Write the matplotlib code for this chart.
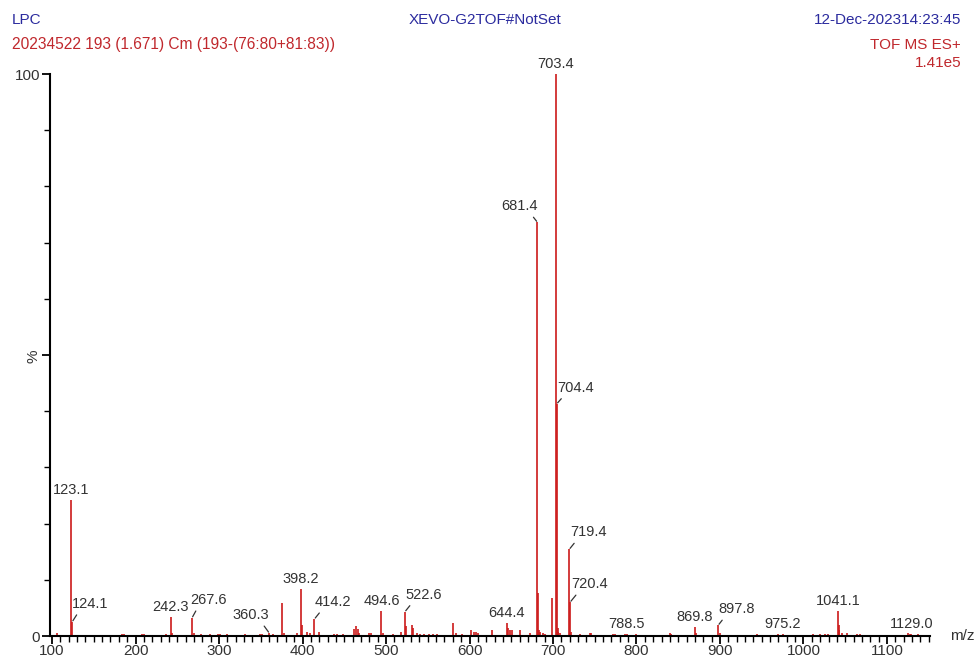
import numpy as np
import matplotlib
matplotlib.use('Agg')
import matplotlib.pyplot as plt
from matplotlib.ticker import MultipleLocator

plt.rcParams['font.family'] = ['Liberation Sans', 'DejaVu Sans']

# picos etiquetados (m/z, intensidad relativa %)
label_mz = [123.1, 124.1, 242.3, 267.6, 360.3, 398.2, 414.2, 494.6, 522.6, 644.4,
            681.4, 703.4, 704.4, 719.4, 720.4, 788.5, 869.8, 897.8, 975.2, 1041.1, 1129.0]
label_int = [24.2, 2.5, 3.4, 3.2, 0.5, 8.4, 3.0, 4.5, 4.3, 2.3,
             73.6, 100.0, 41.3, 15.4, 6.0, 0.4, 1.6, 1.9, 0.4, 4.5, 0.4]

# picos sin etiqueta (leidos a ojo del espectro)
other_mz = [106, 184, 186, 208, 210, 236.5, 243.3, 269.5, 279, 289, 299, 301, 309, 331,
            349, 351, 365, 375.2, 377.8, 393, 399.2, 405.5, 409, 420, 438, 441, 449,
            462, 464.5, 466, 467.5, 480, 482, 496, 508, 517.6, 524, 531, 532.5, 537,
            541, 546, 552, 556, 561, 580, 583.6, 590.6, 601.4, 605.6, 608, 610, 626.6,
            645.7, 648.5, 650.5, 660.5, 672.5, 682.4, 683.4, 685, 688, 691, 699.4,
            705.4, 706.4, 708, 721.4, 732, 744, 746, 772, 774, 786, 800, 840, 841.7,
            871, 899.8, 944, 969.6, 1011, 1020, 1026, 1029, 1042.1, 1043.1, 1045.7,
            1051.6, 1063.7, 1067.6, 1125, 1127, 1137]
other_int = [0.6, 0.4, 0.4, 0.4, 0.4, 0.3, 0.6, 0.5, 0.4, 0.3, 0.4, 0.4, 0.3, 0.3,
             0.4, 0.4, 0.3, 5.9, 0.5, 0.5, 1.9, 0.7, 0.5, 0.7, 0.4, 0.4, 0.3,
             1.2, 1.8, 1.2, 0.6, 0.5, 0.5, 0.5, 0.4, 0.8, 1.7, 2.0, 1.5, 0.5,
             0.4, 0.4, 0.4, 0.4, 0.4, 2.4, 0.6, 0.4, 1.1, 0.8, 0.8, 0.6, 1.0,
             1.4, 1.1, 1.1, 1.0, 0.6, 7.7, 1.0, 0.7, 0.5, 0.4, 6.8,
             1.5, 0.8, 0.5, 0.8, 0.4, 0.6, 0.6, 0.4, 0.4, 0.4, 0.3, 0.5, 0.4,
             0.6, 0.6, 0.3, 0.4, 0.4, 0.4, 0.4, 0.4, 2.0, 1.1, 0.6,
             0.6, 0.3, 0.3, 0.5, 0.4, 0.4]

# desplazamiento de cada etiqueta (pixeles) cuando lleva linea guia
offsets = {124.1: (18, 18), 267.6: (17, 18), 360.3: (-19, 18), 414.2: (19, 17),
           522.6: (19, 17), 681.4: (-18, 16), 704.4: (19, 16), 719.4: (19, 17),
           720.4: (20, 18), 897.8: (18, 16)}

red = '#cc1a1a'
txt = '#333333'

fig = plt.figure(figsize=(9.74, 6.64), dpi=100)
ax = fig.add_axes([50 / 974, 1 - 636 / 664, 880 / 974, (636 - 74) / 664])

ax.vlines(other_mz, 0, other_int, color=red, lw=1.2)
ax.vlines(label_mz, 0, label_int, color=red, lw=1.2)

for mz, it in zip(label_mz, label_int):
    s = '%.1f' % mz
    if mz in offsets:
        dx, dy = offsets[mz]
        rp = (0.2, 0.0) if dx > 0 else (0.8, 0.0)
        ax.annotate(s, (mz, it), xytext=(dx, dy), textcoords='offset pixels',
                    ha='center', va='center', fontsize=10.5, color=txt,
                    arrowprops=dict(arrowstyle='-', color=txt, lw=0.9,
                                    shrinkA=1, shrinkB=1, relpos=rp))
    else:
        ax.annotate(s, (mz, it), xytext=(0, 10), textcoords='offset pixels',
                    ha='center', va='center', fontsize=10.5, color=txt)

ax.set_xlim(97.6, 1151.5)
ax.set_ylim(0, 100)
ax.spines['top'].set_visible(False)
ax.spines['right'].set_visible(False)
ax.spines['left'].set_linewidth(1.5)
ax.spines['bottom'].set_linewidth(1.5)
ax.set_facecolor('none')

ax.set_xticks(np.arange(100, 1101, 100))
ax.xaxis.set_minor_locator(MultipleLocator(10))
ax.set_yticks([0, 50, 100])
ax.set_yticklabels(['0', '%', '100'])
ax.get_yticklabels()[1].set_rotation(90)
ax.yaxis.set_minor_locator(MultipleLocator(10))
ax.tick_params(axis='x', which='major', length=6, width=1.3, labelsize=11, labelcolor=txt, pad=0)
ax.tick_params(axis='x', which='minor', length=4, width=1.0)
ax.tick_params(axis='y', which='major', length=6, width=1.3, labelsize=11, labelcolor=txt, pad=1)
ax.tick_params(axis='y', which='minor', length=4, width=1.0)

fig.text(950 / 974, 1 - 636 / 664, 'm/z', ha='left', va='center', fontsize=11, color=txt)

# cabecera
blue = '#2b2b9e'
fig.text(12 / 974, 1 - 20 / 664, 'LPC', ha='left', va='center', fontsize=11, color=blue)
fig.text(12 / 974, 1 - 45 / 664, '20234522 193 (1.671) Cm (193-(76:80+81:83))',
         ha='left', va='center', fontsize=11.2, color='#c0282d')
fig.text(485 / 974, 1 - 20 / 664, 'XEVO-G2TOF#NotSet', ha='center', va='center', fontsize=11, color=blue)
fig.text(961 / 974, 1 - 20 / 664, '12-Dec-202314:23:45', ha='right', va='center', fontsize=11, color=blue)
fig.text(961 / 974, 1 - 45 / 664, 'TOF MS ES+', ha='right', va='center', fontsize=11, color='#c0282d')
fig.text(961 / 974, 1 - 63 / 664, '1.41e5', ha='right', va='center', fontsize=11, color='#c0282d')

fig.savefig('out.png', dpi=100, facecolor='white')
